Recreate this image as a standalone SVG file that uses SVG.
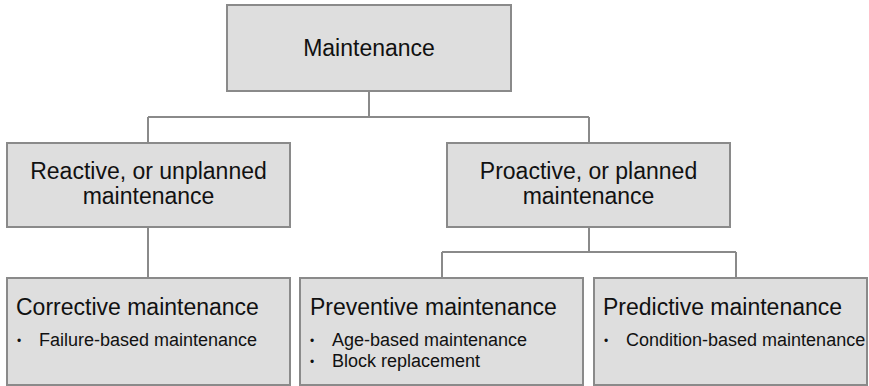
<svg xmlns="http://www.w3.org/2000/svg" width="869" height="386" viewBox="0 0 869 386">
<style>
.box{fill:#dedede;stroke:#8a8a8a;stroke-width:2}
.ln{fill:none;stroke:#8a8a8a;stroke-width:2}
text{font-family:"Liberation Sans",Arial,sans-serif;fill:#111}
.h{font-size:23px}
.c{text-anchor:middle}
.b{font-size:18px}
.d{font-size:12px}
</style>
<rect width="869" height="386" fill="#fff"/>
<g id="connectors">
<path class="ln" d="M369,91 V117 M148,117 H589 M148,117 V143 M589,117 V143 M148,227 V278 M589,227 V252 M442,252 H736 M442,252 V278 M736,252 V278"/>
</g>
<g id="maintenance">
<rect class="box" x="227" y="5" width="284" height="86"/>
<text class="h c" x="369" y="56">Maintenance</text>
</g>
<g id="reactive">
<rect class="box" x="7" y="143" width="283" height="84"/>
<text class="h c" x="148.5" y="179">Reactive, or unplanned</text>
<text class="h c" x="148.5" y="204">maintenance</text>
</g>
<g id="proactive">
<rect class="box" x="447" y="143" width="283" height="84"/>
<text class="h c" x="588.5" y="179">Proactive, or planned</text>
<text class="h c" x="588.5" y="204">maintenance</text>
</g>
<g id="corrective">
<rect class="box" x="7" y="278" width="283" height="107"/>
<text class="h" x="16" y="315">Corrective maintenance</text>
<text class="d" x="17" y="345">•</text>
<text class="b" x="39" y="346">Failure-based maintenance</text>
</g>
<g id="preventive">
<rect class="box" x="300" y="278" width="283" height="107"/>
<text class="h" x="310" y="315">Preventive maintenance</text>
<text class="d" x="310" y="345">•</text>
<text class="b" x="332" y="346">Age-based maintenance</text>
<text class="d" x="310" y="366">•</text>
<text class="b" x="332" y="367">Block replacement</text>
</g>
<g id="predictive">
<rect class="box" x="594" y="278" width="273" height="107"/>
<text class="h" x="603" y="315">Predictive maintenance</text>
<text class="d" x="604" y="345">•</text>
<text class="b" x="626" y="346">Condition-based maintenance</text>
</g>
</svg>
